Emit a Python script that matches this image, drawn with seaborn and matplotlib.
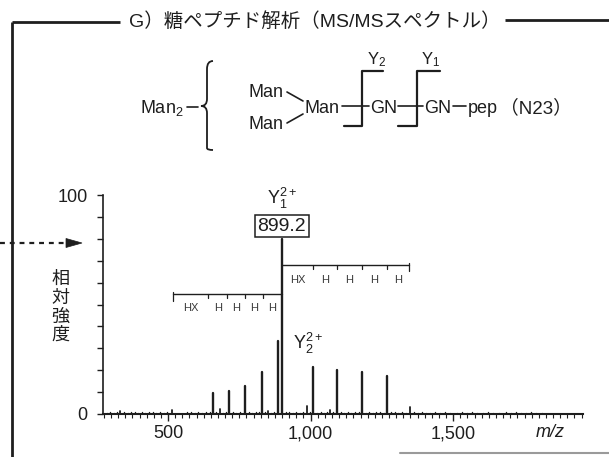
import matplotlib
matplotlib.use("Agg")
import matplotlib.pyplot as plt
from matplotlib.path import Path
from matplotlib.patches import PathPatch, Polygon
from matplotlib.ticker import MultipleLocator, FixedLocator
import pandas as pd
import seaborn as sns

# ---- spectrum: fragment peaks (m/z, relative intensity) ----
main_mz = [659, 715, 771, 829, 885, 899.2, 1010, 1093, 1180, 1268]
main_int = [9.5, 10.5, 13.0, 19.4, 33.3, 80.0, 21.6, 20.1, 19.0, 17.4]

minor_mz = [332, 513, 683, 852, 987, 1068, 1350]
minor_int = [1.5, 2.0, 2.3, 1.4, 3.8, 1.8, 3.0]

noise_mz = [285, 298, 310, 322, 345, 358, 371, 384, 396, 409, 421, 434, 447, 459,
            472, 486, 498, 566, 579, 593, 606, 620, 633, 646, 668, 692, 705, 727,
            740, 752, 783, 796, 808, 818, 840, 862, 873, 912, 925, 938, 950, 962,
            975, 998, 1022, 1035, 1047, 1058, 1080, 1105, 1118, 1130, 1143, 1155,
            1168, 1193, 1205, 1218, 1230, 1243, 1256, 1282, 1295, 1308, 1320, 1333,
            1362, 1375, 1390, 1405, 1420, 1436, 1452, 1470, 1490, 1512, 1530, 1548,
            1566, 1585, 1604, 1622, 1640, 1660, 1685, 1702, 1720, 1738, 1755, 1772,
            1790, 1810]
noise_int = [0.6, 0.9, 0.5, 0.8, 1.1, 0.6, 0.7, 0.9, 0.5, 0.8, 0.6, 1.0, 0.7, 0.5,
             0.8, 0.6, 0.9, 0.7, 1.0, 0.6, 0.8, 0.5, 0.9, 0.7, 0.8, 0.6, 1.0, 0.7,
             0.5, 0.9, 0.8, 0.6, 1.1, 0.7, 0.9, 0.6, 0.8, 1.0, 0.7, 0.5, 0.9, 0.6,
             0.8, 0.7, 0.6, 1.0, 0.5, 0.8, 0.7, 0.9, 0.6, 0.8, 0.5, 0.7, 0.9, 0.6,
             0.8, 0.5, 0.7, 1.0, 0.6, 0.8, 0.7, 0.5, 0.9, 0.6, 0.7, 0.5, 0.8, 0.6,
             0.5, 0.7, 0.6, 0.8, 0.5, 0.6, 0.7, 0.5, 0.8, 0.6, 0.5, 0.7, 0.6, 0.5,
             0.8, 0.6, 0.7, 0.5, 0.6, 0.7, 0.5, 0.6]

# ---- glycan ladders drawn above the spectrum ----
ladder_hi_mz = [899.2, 1010, 1093, 1180, 1268, 1344]
ladder_hi_labels = ["HX", "H", "H", "H", "H"]
ladder_lo_mz = [518, 641, 707, 771, 834, 899.2]
ladder_lo_labels = ["HX", "H", "H", "H", "H"]

precursor_label = "899.2"
xtick_values = [500, 1000, 1500]
xtick_labels = ["500", "1,000", "1,500"]
ytick_values = [0, 100]
ytick_labels = ["0", "100"]

W, H = 609, 457
sns.set_theme(style="ticks")
plt.rcParams["font.family"] = ["Liberation Sans", "Noto Sans CJK JP", "DejaVu Sans"]
plt.rcParams["mathtext.default"] = "regular"
INK = "#1e1e1e"

fig = plt.figure(figsize=(W / 100, H / 100), dpi=100)
fig.patch.set_facecolor("white")


def px_axes(left, right, y_bottom, y_top):
    return [left / W, (H - y_bottom) / H, (right - left) / W, (y_bottom - y_top) / H]


ax = fig.add_axes(px_axes(103, 583, 414, 195))
ax.set_facecolor("none")


def sticks(mz, inten, tag):
    rows = []
    for i, (m, v) in enumerate(zip(mz, inten)):
        rows.append({"mz": m, "intensity": 0.0, "peak": f"{tag}{i}"})
        rows.append({"mz": m, "intensity": v, "peak": f"{tag}{i}"})
    return pd.DataFrame(rows)


sns.lineplot(data=sticks(noise_mz, noise_int, "n"), x="mz", y="intensity",
             units="peak", estimator=None, sort=False, color=INK, lw=1.0,
             legend=False, ax=ax)
sns.lineplot(data=sticks(minor_mz, minor_int, "s"), x="mz", y="intensity",
             units="peak", estimator=None, sort=False, color=INK, lw=1.3,
             legend=False, ax=ax)
sns.lineplot(data=sticks(main_mz, main_int, "p"), x="mz", y="intensity",
             units="peak", estimator=None, sort=False, color=INK, lw=1.7,
             legend=False, ax=ax)

ax.set_xlim(272, 1955)
ax.set_ylim(0, 100)
ax.set_xlabel("")
ax.set_ylabel("")
sns.despine(ax=ax)
for s in ("left", "bottom"):
    ax.spines[s].set_color(INK)
ax.spines["left"].set_linewidth(1.2)
ax.spines["bottom"].set_linewidth(1.5)

ax.xaxis.set_major_locator(FixedLocator(xtick_values))
ax.set_xticklabels(xtick_labels)
ax.xaxis.set_minor_locator(MultipleLocator(25))
ax.yaxis.set_major_locator(FixedLocator(ytick_values))
ax.set_yticklabels(ytick_labels)
ax.yaxis.set_minor_locator(MultipleLocator(10))
ax.tick_params(axis="x", which="major", direction="out", length=5, width=1.0,
               color=INK, labelsize=13, labelcolor=INK, pad=3)
ax.tick_params(axis="x", which="minor", direction="out", length=3, width=0.8, color=INK)
ax.tick_params(axis="y", which="both", direction="out", length=4, width=1.0,
               color=INK, labelsize=13, labelcolor=INK, pad=7)

# m/z unit at the right end of the axis
ax.text(1840, -8.3, "m/z", style="italic", fontsize=13, color=INK,
        ha="center", va="center", clip_on=False)

# precursor label and ion names
ax.text(899.2, 85.8, precursor_label, ha="center", va="center", fontsize=14,
        color=INK, bbox=dict(boxstyle="square,pad=0.12", fc="white", ec=INK, lw=1.1),
        clip_on=False)
ax.text(899.2, 98.6, "Y$_{1}^{2+}$", ha="center", va="center", fontsize=13,
        color=INK, clip_on=False)
ax.text(937, 32.4, "Y$_{2}^{2+}$", ha="left", va="center", fontsize=13,
        color=INK, clip_on=False)


def ladder(mz, labels, level, label_level, end_drop, grows_right):
    ax.plot([mz[0], mz[-1]], [level, level], color=INK, lw=1.0, clip_on=False)
    for m in mz[1:-1]:
        ax.plot([m, m], [level, level - 2.2], color=INK, lw=0.9, clip_on=False)
    end = mz[-1] if grows_right else mz[0]
    ax.plot([end, end], [level + 0.8, level - end_drop], color=INK, lw=0.9)
    for a, b, lab in zip(mz[:-1], mz[1:], labels):
        ax.text((a + b) / 2, label_level, lab, ha="center", va="center",
                fontsize=8, color="#3a3a3a")


ladder(ladder_hi_mz, ladder_hi_labels, 68.2, 61.3, 3.0, True)
ladder(ladder_lo_mz, ladder_lo_labels, 55.0, 48.5, 3.5, False)

# ---- page furniture in pixel coordinates ----
ov = fig.add_axes([0, 0, 1, 1])
ov.set_xlim(0, W)
ov.set_ylim(H, 0)
ov.axis("off")
ov.patch.set_alpha(0)

ov.plot([12, 12], [22, H], color=INK, lw=2.0, solid_capstyle="butt")
ov.plot([12, 120], [22, 22], color=INK, lw=2.0, solid_capstyle="butt")
ov.plot([505, W], [20, 20], color=INK, lw=2.0, solid_capstyle="butt")
ov.plot([400, W], [453, 453], color="#9a9a9a", lw=1.5)

ov.text(129, 22, "G）糖ペプチド解析（MS/MSスペクトル）", ha="left", va="center",
        fontsize=14, color=INK)

# dashed pointer to the relative-intensity axis
ov.plot([0, 67], [243, 243], color=INK, lw=1.6, ls=(0, (2.2, 2.2)))
ov.add_patch(Polygon([(66, 238.5), (82, 243), (66, 247.5)], closed=True,
                     fc=INK, ec=INK, lw=0.5))

ov.text(60, 307, "相\n対\n強\n度", ha="center", va="center", fontsize=13,
        linespacing=1.05, color=INK, family=["Noto Sans CJK JP"])

# glycopeptide structure
fs = 13
ov.text(184, 113, "Man$_{2}$", ha="right", va="baseline", fontsize=fs, color=INK)
ov.plot([187, 198], [107, 107], color=INK, lw=1.2)
bx = 201
brace = Path([(bx + 12, 61), (bx + 6, 61), (bx + 6, 69), (bx + 6, 77),
              (bx + 6, 99), (bx + 6, 106), (bx, 106),
              (bx + 6, 106), (bx + 6, 113), (bx + 6, 137),
              (bx + 6, 148), (bx + 6, 150), (bx + 12, 150)],
             [Path.MOVETO, Path.CURVE3, Path.CURVE3, Path.LINETO,
              Path.LINETO, Path.CURVE3, Path.CURVE3,
              Path.CURVE3, Path.CURVE3, Path.LINETO,
              Path.LINETO, Path.CURVE3, Path.CURVE3])
ov.add_patch(PathPatch(brace, fc="none", ec=INK, lw=1.3))
ov.text(248, 97, "Man", ha="left", va="baseline", fontsize=fs, color=INK)
ov.text(248, 129, "Man", ha="left", va="baseline", fontsize=fs, color=INK)
ov.plot([287, 303], [92, 101], color=INK, lw=1.2)
ov.plot([287, 303], [123, 114], color=INK, lw=1.2)
ov.text(305, 113, "Man", ha="left", va="baseline", fontsize=fs, color=INK)

ov.plot([342, 369], [106, 106], color=INK, lw=1.2)
ov.plot([344, 361.5, 361.5, 383], [126, 126, 71, 71], color=INK, lw=1.6)
ov.text(370, 113, "GN", ha="left", va="baseline", fontsize=fs, color=INK)
ov.plot([398, 423], [106, 106], color=INK, lw=1.2)
ov.plot([398, 416.5, 416.5, 440], [126, 126, 71, 71], color=INK, lw=1.6)
ov.text(424, 113, "GN", ha="left", va="baseline", fontsize=fs, color=INK)
ov.plot([453, 466], [106, 106], color=INK, lw=1.2)
ov.text(468, 113, "pep", ha="left", va="baseline", fontsize=fs, color=INK)
ov.text(500, 113, "（N23）", ha="left", va="baseline", fontsize=fs + 0.5, color=INK)
ov.text(377, 64, "Y$_{2}$", ha="center", va="baseline", fontsize=fs - 1, color=INK)
ov.text(431, 64, "Y$_{1}$", ha="center", va="baseline", fontsize=fs - 1, color=INK)

fig.savefig("out.png", dpi=100, facecolor="white")
